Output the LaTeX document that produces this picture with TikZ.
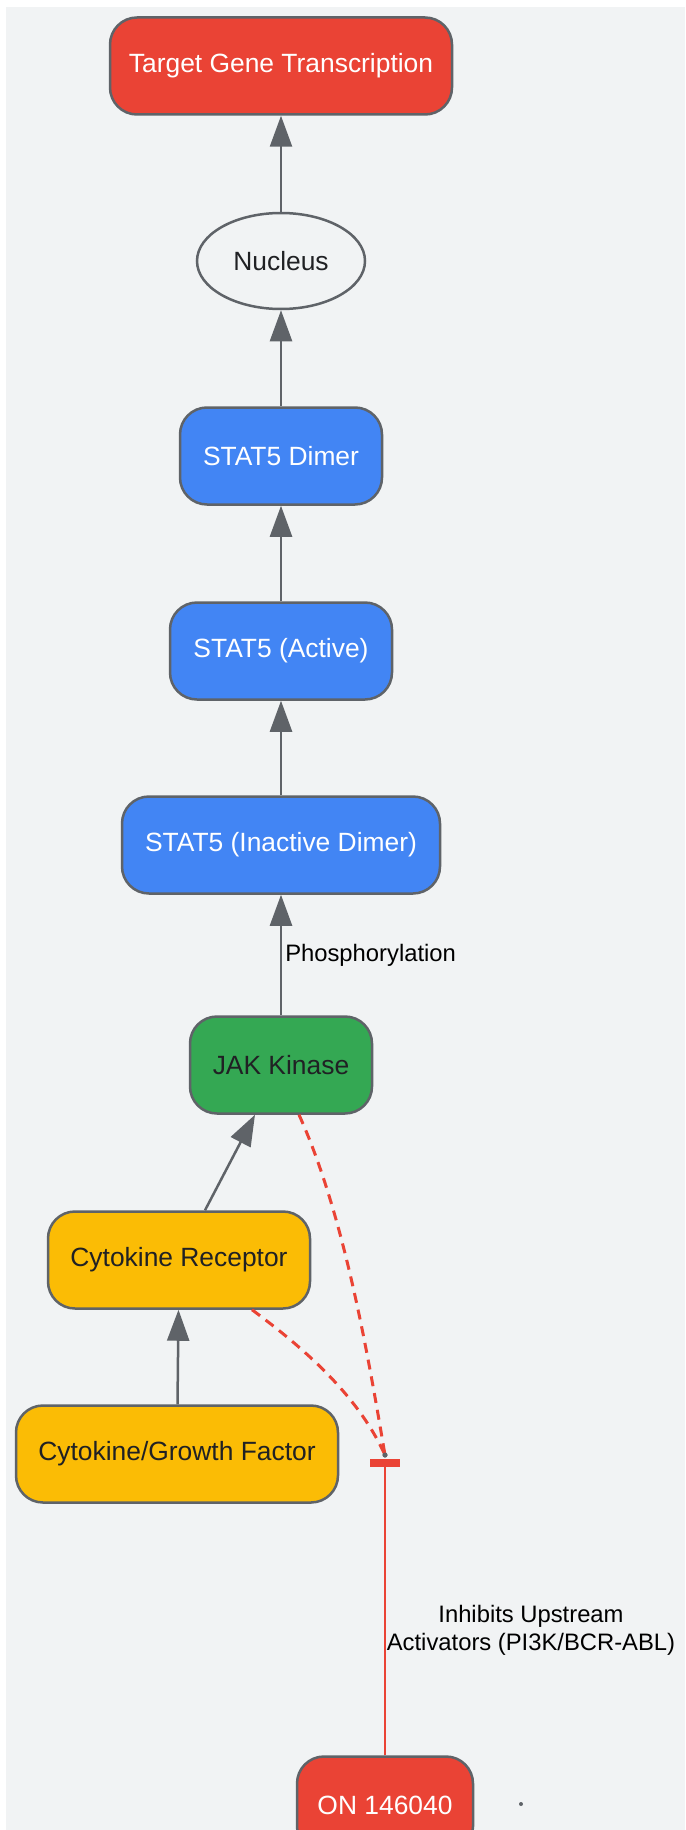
\documentclass[tikz,border=0pt]{standalone}
\usepackage{fontspec}
\setmainfont{Liberation Sans}
\usetikzlibrary{arrows.meta,shapes.geometric}
\definecolor{bg}{HTML}{F1F3F4}
\definecolor{bord}{HTML}{5F6368}
\definecolor{gred}{HTML}{EA4335}
\definecolor{gblue}{HTML}{4285F4}
\definecolor{ggreen}{HTML}{34A853}
\definecolor{gyellow}{HTML}{FBBC05}
\definecolor{dtext}{HTML}{202124}
\begin{document}
\begin{tikzpicture}[x=1pt,y=-1pt,
  box/.style={rectangle, rounded corners=27pt, draw=bord, line width=2.5pt,
    minimum height=97pt, inner sep=0pt, font=\fontsize{26.4}{30}\selectfont},
  redbox/.style={box, fill=gred, text=white},
  bluebox/.style={box, fill=gblue, text=white},
  greenbox/.style={box, fill=ggreen, text=dtext},
  yellowbox/.style={box, fill=gyellow, text=dtext},
  nucstyle/.style={ellipse, draw=bord, line width=2.5pt, fill=bg, text=dtext,
    minimum width=168pt, minimum height=96pt, inner sep=0pt, font=\fontsize{26.4}{30}\selectfont},
  arr/.style={draw=bord, line width=2.5pt, -{Triangle[length=31pt,width=22pt]}},
  inhib/.style={draw=gred, line width=3pt, dash pattern=on 10pt off 7pt},
  redline/.style={draw=gred, line width=2.5pt},
  tbarstyle/.style={rectangle, fill=gred, minimum width=30pt, minimum height=8pt, inner sep=0pt},
  dotstyle/.style={circle, fill=bord, minimum size=5pt, inner sep=0pt},
  lbl/.style={text=black, font=\fontsize{23.8}{28}\selectfont, inner sep=3pt}
]
\useasboundingbox (0,0) rectangle (685,1830);
\fill[white] (0,0) rectangle (685,1830);
\fill[bg] (6,7) rectangle (685,1830);

\node[redbox, minimum width=342pt] (tgt) at (281,66) {Target Gene Transcription};
\node[nucstyle] (nuc) at (281,261) {Nucleus};
\node[bluebox, minimum width=202pt] (dim) at (281,456) {STAT5 Dimer};
\node[bluebox, minimum width=222pt] (act) at (281,651) {STAT5 (Active)};
\node[bluebox, minimum width=318pt] (ina) at (281,845) {STAT5 (Inactive Dimer)};
\node[greenbox, minimum width=182pt] (jak) at (281,1065) {JAK Kinase};
\node[yellowbox, minimum width=262pt] (rec) at (179,1260) {Cytokine Receptor};
\node[yellowbox, minimum width=322pt] (gf) at (177,1454) {Cytokine/Growth Factor};
\node[redbox, minimum width=176pt] (on) at (385,1805) {ON 146040};
\node[dotstyle] (mid) at (385,1455) {};
\node[tbarstyle] (tbar) at (385,1463) {};
\node[dotstyle, minimum size=4pt] (stray) at (521,1804) {};

\draw[arr] (nuc) -- (tgt);
\draw[arr] (dim) -- (nuc);
\draw[arr] (act) -- (dim);
\draw[arr] (ina) -- (act);
\draw[arr] (jak) -- node[lbl, anchor=west] {Phosphorylation} (ina);
\draw[arr] (rec) -- (jak);
\draw[arr] (gf) -- (rec);

\draw[inhib] ([xshift=18pt]jak.south) .. controls (344,1214) and (368,1355) .. (mid.center);
\draw[inhib] ([xshift=73pt]rec.south) .. controls (312,1354) and (360,1400) .. (mid.center);
\node[dotstyle] at (mid) {};

\draw[redline] (on.north) -- node[lbl, pos=0.433, xshift=146pt, align=center] {Inhibits Upstream\\Activators (PI3K/BCR-ABL)} (tbar.south);
\end{tikzpicture}
\end{document}
